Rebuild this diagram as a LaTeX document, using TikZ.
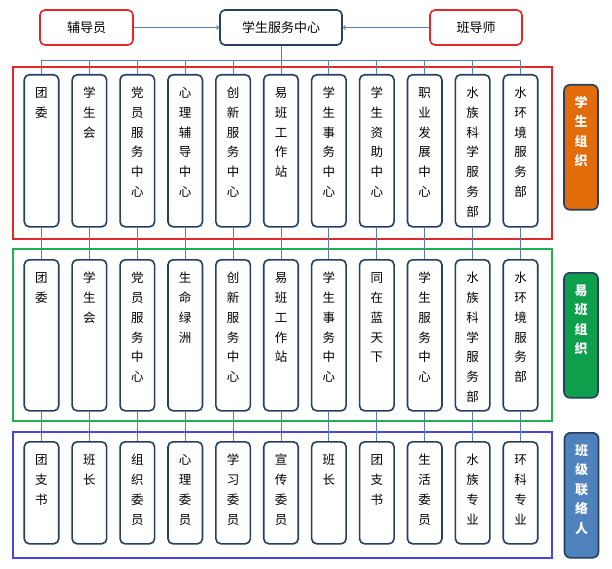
\documentclass[tikz,border=0pt]{standalone}
\usepackage{fontspec}
\setmainfont{Noto Sans CJK SC}
\usetikzlibrary{positioning}
\definecolor{boxnavy}{HTML}{243F60}
\definecolor{linkblue}{HTML}{5A7FAA}
\definecolor{framered}{HTML}{E32626}
\definecolor{framegreen}{HTML}{1FB04F}
\definecolor{frameblue}{HTML}{4646DC}
\definecolor{fillorange}{HTML}{E36C0A}
\definecolor{fillgreen}{HTML}{0E9F4C}
\definecolor{fillblue}{HTML}{4F81BD}

\begin{document}
\begin{tikzpicture}[x=1pt, y=-1pt, ->,
  link/.style={draw=linkblue, line width=0.9pt, -},
  topbox/.style={draw=#1, line width=1.6pt, rounded corners=5pt, fill=white, minimum height=35pt, font=\fontsize{13}{15}\selectfont},
  colbox/.style={draw=boxnavy, line width=1.6pt, rounded corners=5pt, fill=white, minimum width=34.5pt, text width=16pt, align=center, inner xsep=0pt, inner ysep=11.5pt, text height=11pt, text depth=#1, anchor=north, font=\fontsize{12.5}{19.9}\selectfont},
  colbox/.default=118pt,
  sidebox/.style={draw=boxnavy, line width=1.6pt, rounded corners=6pt, fill=#1, text=white, minimum width=34pt, text width=16pt, align=center, inner xsep=0pt, inner ysep=11.5pt, text height=11pt, text depth=91pt, anchor=north, font=\bfseries\fontsize{13}{19.5}\selectfont}]
\useasboundingbox (0,0) rectangle (612,569);

% frames
\draw[framered, line width=1.6pt, -] (13,67) rectangle (552,239);
\draw[framegreen, line width=1.6pt, -] (13,249) rectangle (552,421);
\draw[frameblue, line width=1.6pt, -] (13,432) rectangle (552,558);

% top row
\node[topbox=boxnavy, minimum width=122pt] (T0) at (281,27.5) {学生服务中心};
\node[topbox=framered, minimum width=93pt] (T1) at (86.5,27.5) {辅导员};
\node[topbox=framered, minimum width=92pt] (T2) at (476,27.5) {班导师};

\draw[linkblue, line width=0.9pt] (T1) -- (T0);
\draw[linkblue, line width=0.9pt] (T2) -- (T0);

% student organisations
\node[colbox] (S1) at (41.5,74) {团\\委};
\node[colbox, right=11.8pt of S1] (S2) {学\\生\\会};
\node[colbox, right=11.8pt of S2] (S3) {党\\员\\服\\务\\中\\心};
\node[colbox, right=11.8pt of S3] (S4) {心\\理\\辅\\导\\中\\心};
\node[colbox, right=11.8pt of S4] (S5) {创\\新\\服\\务\\中\\心};
\node[colbox, right=11.8pt of S5] (S6) {易\\班\\工\\作\\站};
\node[colbox, right=11.8pt of S6] (S7) {学\\生\\事\\务\\中\\心};
\node[colbox, right=11.8pt of S7] (S8) {学\\生\\资\\助\\中\\心};
\node[colbox, right=11.8pt of S8] (S9) {职\\业\\发\\展\\中\\心};
\node[colbox, right=11.8pt of S9] (S10) {水\\族\\科\\学\\服\\务\\部};
\node[colbox, right=11.8pt of S10] (S11) {水\\环\\境\\服\\务\\部};

% yiban organisations
\node[colbox=117pt, below=31.4pt of S1] (Y1) {团\\委};
\node[colbox=117pt, below=31.4pt of S2] (Y2) {学\\生\\会};
\node[colbox=117pt, below=31.4pt of S3] (Y3) {党\\员\\服\\务\\中\\心};
\node[colbox=117pt, below=31.4pt of S4] (Y4) {生\\命\\绿\\洲};
\node[colbox=117pt, below=31.4pt of S5] (Y5) {创\\新\\服\\务\\中\\心};
\node[colbox=117pt, below=31.4pt of S6] (Y6) {易\\班\\工\\作\\站};
\node[colbox=117pt, below=31.4pt of S7] (Y7) {学\\生\\事\\务\\中\\心};
\node[colbox=117pt, below=31.4pt of S8] (Y8) {同\\在\\蓝\\天\\下};
\node[colbox=117pt, below=31.4pt of S9] (Y9) {学\\生\\服\\务\\中\\心};
\node[colbox=117pt, below=31.4pt of S10] (Y10) {水\\族\\科\\学\\服\\务\\部};
\node[colbox=117pt, below=31.4pt of S11] (Y11) {水\\环\\境\\服\\务\\部};

% class contacts
\node[colbox=68pt, below=29.4pt of Y1] (B1) {团\\支\\书};
\node[colbox=68pt, below=29.4pt of Y2] (B2) {班\\长};
\node[colbox=68pt, below=29.4pt of Y3] (B3) {组\\织\\委\\员};
\node[colbox=68pt, below=29.4pt of Y4] (B4) {心\\理\\委\\员};
\node[colbox=68pt, below=29.4pt of Y5] (B5) {学\\习\\委\\员};
\node[colbox=68pt, below=29.4pt of Y6] (B6) {宣\\传\\委\\员};
\node[colbox=68pt, below=29.4pt of Y7] (B7) {班\\长};
\node[colbox=68pt, below=29.4pt of Y8] (B8) {团\\支\\书};
\node[colbox=68pt, below=29.4pt of Y9] (B9) {生\\活\\委\\员};
\node[colbox=68pt, below=29.4pt of Y10] (B10) {水\\族\\专\\业};
\node[colbox=68pt, below=29.4pt of Y11] (B11) {环\\科\\专\\业};

% side labels
\node[sidebox=fillorange] (L1) at (581,84) {学\\生\\组\\织};
\node[sidebox=fillgreen] (L2) at (581,272) {易\\班\\组\\织};
\node[sidebox=fillblue] (L3) at (581.5,432) {班\\级\\联\\络\\人};

% hub to columns
\draw[link] (T0.south) -- ++(0,14.5) -| (S1.north);
\draw[link] (T0.south) -- ++(0,14.5) -| (S2.north);
\draw[link] (T0.south) -- ++(0,14.5) -| (S3.north);
\draw[link] (T0.south) -- ++(0,14.5) -| (S4.north);
\draw[link] (T0.south) -- ++(0,14.5) -| (S5.north);
\draw[link] (T0.south) -- ++(0,14.5) -| (S6.north);
\draw[link] (T0.south) -- ++(0,14.5) -| (S7.north);
\draw[link] (T0.south) -- ++(0,14.5) -| (S8.north);
\draw[link] (T0.south) -- ++(0,14.5) -| (S9.north);
\draw[link] (T0.south) -- ++(0,14.5) -| (S10.north);
\draw[link] (T0.south) -- ++(0,14.5) -| (S11.north);

% rows
\path[link] (S1) edge (Y1) (Y1) edge (B1);
\path[link] (S2) edge (Y2) (Y2) edge (B2);
\path[link] (S3) edge (Y3) (Y3) edge (B3);
\path[link] (S4) edge (Y4) (Y4) edge (B4);
\path[link] (S5) edge (Y5) (Y5) edge (B5);
\path[link] (S6) edge (Y6) (Y6) edge (B6);
\path[link] (S7) edge (Y7) (Y7) edge (B7);
\path[link] (S8) edge (Y8) (Y8) edge (B8);
\path[link] (S9) edge (Y9) (Y9) edge (B9);
\path[link] (S10) edge (Y10) (Y10) edge (B10);
\path[link] (S11) edge (Y11) (Y11) edge (B11);
\end{tikzpicture}
\end{document}
